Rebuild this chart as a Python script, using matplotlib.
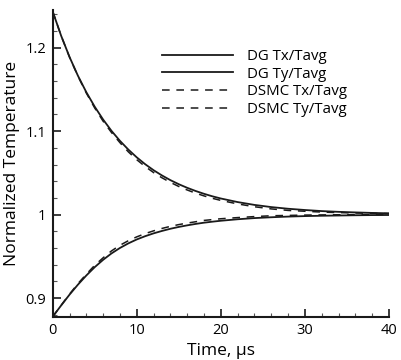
import matplotlib
matplotlib.use("Agg")
import matplotlib.pyplot as plt
from matplotlib.ticker import MultipleLocator, FormatStrFormatter

# time in microseconds
time = [0, 1, 2, 3, 4, 5, 6, 7, 8, 9, 10, 11, 12, 13, 14, 15, 16, 17, 18, 19, 20,
        22, 24, 26, 28, 30, 32, 34, 36, 38, 40]

dg_tx = [1.2435, 1.2145, 1.1890, 1.1665, 1.1467, 1.1293, 1.1139, 1.1003, 1.0884, 1.0779,
         1.0686, 1.0604, 1.0532, 1.0469, 1.0413, 1.0364, 1.0321, 1.0283, 1.0249, 1.0219,
         1.0193, 1.0150, 1.0116, 1.0090, 1.0070, 1.0055, 1.0042, 1.0033, 1.0026, 1.0020, 1.0015]
dg_ty = [0.8776, 0.8910, 0.9040, 0.9160, 0.9270, 0.9370, 0.9458, 0.9535, 0.9600, 0.9655,
         0.9702, 0.9741, 0.9775, 0.9804, 0.9830, 0.9852, 0.9871, 0.9888, 0.9903, 0.9915,
         0.9926, 0.9944, 0.9958, 0.9968, 0.9976, 0.9982, 0.9986, 0.9989, 0.9992, 0.9994, 0.9995]
dsmc_tx = [1.2435, 1.2145, 1.1888, 1.1660, 1.1457, 1.1278, 1.1119, 1.0983, 1.0862, 1.0752,
           1.0658, 1.0576, 1.0504, 1.0441, 1.0386, 1.0337, 1.0295, 1.0257, 1.0224, 1.0195,
           1.0170, 1.0128, 1.0094, 1.0068, 1.0050, 1.0040, 1.0030, 1.0024, 1.0019, 1.0015, 1.0012]
dsmc_ty = [0.8776, 0.8912, 0.9046, 0.9172, 0.9285, 0.9392, 0.9482, 0.9565, 0.9632, 0.9687,
           0.9733, 0.9772, 0.9805, 0.9834, 0.9859, 0.9880, 0.9898, 0.9914, 0.9930, 0.9940,
           0.9950, 0.9964, 0.9976, 0.9986, 0.9990, 0.9994, 0.9996, 0.9998, 0.9999, 1.0000, 1.0000]

labels = ["DG Tx/Tavg", "DG Ty/Tavg", "DSMC Tx/Tavg", "DSMC Ty/Tavg"]

plt.rcParams['font.family'] = ['Open Sans', 'DejaVu Sans']

fig = plt.figure(figsize=(4.01, 3.60), dpi=100)
ax = fig.add_axes([0.1314, 0.1203, 0.8386, 0.8525])

col = '#1a1a1a'
ax.plot(time, dg_tx, color=col, lw=1.3, label=labels[0])
ax.plot(time, dg_ty, color=col, lw=1.3, label=labels[1])
ax.plot(time, dsmc_tx, color=col, lw=1.1, dashes=(5, 4.4), label=labels[2])
ax.plot(time, dsmc_ty, color=col, lw=1.1, dashes=(5, 4.4), label=labels[3])

ax.set_xlim(0, 40)
ax.set_ylim(0.8776, 1.2455)
ax.xaxis.set_major_locator(MultipleLocator(10))
ax.xaxis.set_minor_locator(MultipleLocator(2))
ax.yaxis.set_major_locator(MultipleLocator(0.1))
ax.yaxis.set_minor_locator(MultipleLocator(0.02))
ax.yaxis.set_major_formatter(FormatStrFormatter('%g'))

for s in ['top', 'right']:
    ax.spines[s].set_visible(False)
for s in ['left', 'bottom']:
    ax.spines[s].set_linewidth(1.5)
    ax.spines[s].set_color(col)

ax.tick_params(which='major', direction='in', length=6, width=1.2, color=col,
               labelsize=10.5, pad=4.5)
ax.tick_params(which='minor', direction='in', length=3, width=0.8, color='#555555')

ax.set_xlabel("Time, μs", fontsize=12.5, labelpad=4)
ax.set_ylabel("Normalized Temperature", fontsize=12.5, labelpad=4)

ax.legend(loc='upper left', bbox_to_anchor=(162 / 401, 1 - 49 / 360),
          bbox_transform=fig.transFigure, frameon=False, fontsize=10.8,
          handlelength=4.7, handletextpad=0.95, labelspacing=0.18,
          borderpad=0, borderaxespad=0)

fig.savefig("out.png", dpi=100)
